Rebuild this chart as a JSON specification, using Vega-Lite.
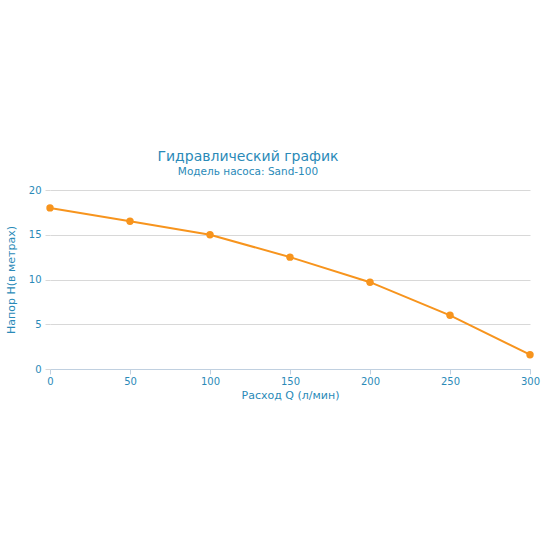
{
  "$schema": "https://vega.github.io/schema/vega-lite/v6.json",
  "autosize": "none",
  "width": 480,
  "height": 179,
  "padding": {"left": 50, "top": 190, "right": 20, "bottom": 181},
  "background": "white",
  "title": {
    "text": "Гидравлический график",
    "subtitle": "Модель насоса: Sand-100",
    "anchor": "middle",
    "frame": "group",
    "dx": -42,
    "offset": 8,
    "font": "DejaVu Sans",
    "fontSize": 14,
    "fontWeight": "normal",
    "color": "#2a8ab8",
    "subtitleFont": "DejaVu Sans",
    "subtitleFontSize": 10.5,
    "subtitleColor": "#2a8ab8",
    "subtitlePadding": 3
  },
  "data": {
    "values": [
      {"q": 0, "h": 18},
      {"q": 50, "h": 16.5},
      {"q": 100, "h": 15},
      {"q": 150, "h": 12.5},
      {"q": 200, "h": 9.7},
      {"q": 250, "h": 6},
      {"q": 300, "h": 1.6}
    ]
  },
  "mark": {
    "type": "line",
    "color": "#f7941d",
    "strokeWidth": 2,
    "point": {"filled": true, "color": "#f7941d", "size": 55, "opacity": 1}
  },
  "encoding": {
    "x": {
      "field": "q",
      "type": "quantitative",
      "scale": {"domain": [0, 300], "nice": false},
      "axis": {
        "title": "Расход Q (л/мин)",
        "values": [0, 50, 100, 150, 200, 250, 300],
        "grid": false,
        "labelFlush": false,
        "domainColor": "#c0d0e0",
        "tickColor": "#c0d0e0",
        "tickSize": 5,
        "labelColor": "#2a8ab8",
        "labelFont": "DejaVu Sans",
        "labelFontSize": 10,
        "labelPadding": 2,
        "titleColor": "#2a8ab8",
        "titleFont": "DejaVu Sans",
        "titleFontSize": 11,
        "titleFontWeight": "normal",
        "titlePadding": 3
      }
    },
    "y": {
      "field": "h",
      "type": "quantitative",
      "scale": {"domain": [0, 20], "nice": false},
      "axis": {
        "title": "Напор H(в метрах)",
        "values": [0, 5, 10, 15, 20],
        "grid": true,
        "gridColor": "#d8d8d8",
        "domain": false,
        "ticks": true,
        "tickColor": "#d8d8d8",
        "tickSize": 5,
        "labelColor": "#2a8ab8",
        "labelFont": "DejaVu Sans",
        "labelFontSize": 10,
        "labelPadding": 4,
        "titleColor": "#2a8ab8",
        "titleFont": "DejaVu Sans",
        "titleFontSize": 11,
        "titleFontWeight": "normal",
        "titlePadding": 12
      }
    }
  },
  "config": {"view": {"stroke": null}}
}
